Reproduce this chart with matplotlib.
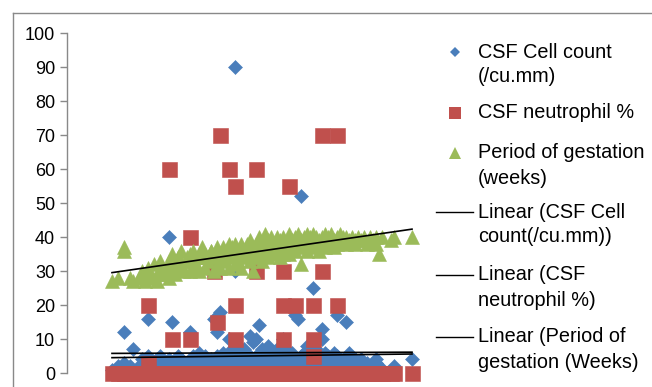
import matplotlib.pyplot as plt
from matplotlib.lines import Line2D
import numpy as np

plt.rcParams['font.family'] = ['Liberation Sans', 'DejaVu Sans']

# case position along the (hidden) x axis
case_x = [15, 17, 19, 19, 21, 22, 24, 25, 26, 27,
          27, 28, 29, 30, 31, 31, 32, 33, 34, 34,
          35, 35, 36, 37, 38, 38, 39, 40, 41, 41,
          42, 43, 44, 44, 45, 46, 46, 47, 48, 49,
          49, 50, 50, 51, 51, 52, 52, 53, 54, 54,
          55, 55, 56, 56, 56, 57, 57, 58, 58, 59,
          59, 60, 61, 61, 62, 62, 63, 63, 64, 64,
          65, 65, 66, 66, 67, 67, 68, 68, 69, 69,
          70, 70, 71, 71, 72, 72, 72, 73, 73, 74,
          74, 75, 75, 76, 76, 77, 77, 78, 78, 79,
          79, 80, 80, 81, 81, 82, 82, 82, 83, 83,
          84, 84, 85, 85, 86, 86, 87, 87, 88, 88,
          89, 89, 90, 90, 91, 91, 92, 93, 93, 94,
          95, 96, 96, 97, 98, 99, 100, 101, 102, 103,
          103, 104, 105, 108, 109, 115,
          # cases hidden under the row of zero squares
          30, 32, 34, 36, 38, 40, 42, 44, 46, 48,
          50, 52, 54, 56, 58, 60, 62, 64, 47, 53,
          57, 43, 37, 33]

cell_count = [1, 2, 12, 3, 2, 7, 2, 4, 3, 16,
              5, 2, 3, 4, 2, 5, 3, 1, 40, 4,
              15, 2, 3, 5, 2, 4, 1, 3, 12, 2,
              5, 3, 6, 2, 4, 3, 5, 2, 4, 16,
              3, 12, 5, 18, 2, 4, 6, 3, 10, 5,
              7, 2, 90, 30, 5, 4, 8, 3, 6, 4,
              7, 3, 11, 5, 9, 4, 10, 3, 14, 6,
              4, 7, 3, 5, 8, 2, 4, 6, 3, 5,
              7, 2, 4, 6, 10, 3, 5, 4, 7, 3,
              5, 6, 2, 17, 4, 16, 3, 52, 5, 6,
              3, 4, 8, 5, 2, 25, 6, 3, 4, 7,
              5, 3, 13, 10, 4, 6, 3, 5, 2, 4,
              6, 3, 17, 5, 3, 4, 2, 15, 4, 6,
              3, 4, 2, 3, 4, 2, 3, 2, 3, 4,
              3, 2, 1, 1, 2, 4,
              2, 1, 3, 2, 1, 2, 3, 1, 2, 3,
              2, 1, 3, 2, 1, 2, 3, 2, 1, 2,
              3, 1, 2, 1]

neutrophil = [0, 0, 0, 0, 0, 0, 0, 0, 0, 20,
              3, 0, 0, 0, 0, 0, 0, 0, 60, 0,
              10, 0, 0, 0, 0, 0, 0, 0, 40, 10,
              0, 0, 0, 0, 0, 0, 0, 0, 0, 30,
              0, 15, 0, 70, 0, 0, 0, 0, 60, 0,
              0, 0, 55, 20, 10, 0, 0, 0, 0, 0,
              0, 0, 0, 0, 0, 0, 60, 30, 0, 0,
              0, 0, 0, 0, 0, 0, 0, 0, 0, 0,
              0, 0, 0, 0, 30, 20, 10, 0, 0, 55,
              0, 0, 0, 0, 20, 0, 0, 0, 0, 0,
              0, 0, 0, 0, 0, 20, 10, 5, 0, 0,
              0, 0, 70, 30, 0, 0, 0, 0, 0, 0,
              0, 0, 70, 20, 0, 0, 0, 0, 0, 0,
              0, 0, 0, 0, 0, 0, 0, 0, 0, 0,
              0, 0, 0, 0, 0, 0,
              0, 0, 0, 0, 0, 0, 0, 0, 0, 0,
              0, 0, 0, 0, 0, 0, 0, 0, 0, 0,
              0, 0, 0, 0]

gestation = [27, 28, 37, 36, 28, 27, 28, 30, 27, 29,
             31, 28, 32, 27, 30, 33, 29, 31, 28, 33,
             30, 35, 29, 34, 31, 36, 30, 33, 35, 30,
             36, 32, 34, 30, 37, 31, 35, 33, 36, 30,
             34, 37, 32, 35, 31, 37, 33, 36, 31, 38,
             34, 37, 32, 36, 38, 33, 35, 38, 31, 36,
             34, 37, 33, 39, 35, 30, 38, 34, 40, 36,
             38, 33, 41, 36, 39, 34, 37, 40, 35, 38,
             36, 40, 34, 39, 37, 35, 40, 38, 36, 41,
             35, 39, 37, 40, 36, 38, 41, 32, 39, 37,
             40, 36, 41, 38, 40, 37, 39, 41, 38, 40,
             36, 39, 40, 38, 41, 37, 39, 40, 38, 41,
             39, 37, 40, 38, 39, 41, 40, 38, 40, 39,
             40, 38, 39, 40, 39, 40, 38, 40, 39, 40,
             38, 35, 40, 39, 40, 40,
             29, 31, 30, 33, 32, 34, 33, 35, 34, 36,
             35, 36, 37, 35, 37, 38, 37, 39, 34, 35,
             36, 31, 32, 30]

BLUE = '#4a7ebb'
RED = '#c0504d'
GREEN = '#9bbb59'
GREY = '#898989'

W, H = 652, 387
fig = plt.figure(figsize=(W / 100, H / 100), dpi=100)
# y=0 at pixel row 373, y=100 at row 33, y axis at column 67
ax = fig.add_axes([67 / W, 14 / H, 363 / W, 340 / H])

x = np.array(case_x, dtype=float)
series = [
    (cell_count, 'D', 7.4, BLUE),
    (neutrophil, 's', 10.8, RED),
    (gestation, '^', 10.6, GREEN),
]
for z, (vals, mk, ms, col) in enumerate(series):
    ax.plot(x, vals, linestyle='none', marker=mk, markersize=ms,
            color=col, markeredgecolor=col, markeredgewidth=0.4,
            clip_on=False, zorder=2 + z)

# linear trendlines spanning the data range
xs = np.array([x.min(), x.max()])
for vals, _, _, _ in series:
    k, b = np.polyfit(x, np.array(vals, dtype=float), 1)
    ax.plot(xs, k * xs + b, color='black', lw=1.2, zorder=6, clip_on=False)

ax.set_xlim(0, 121)
ax.set_ylim(0, 100)
ax.set_yticks(range(0, 101, 10))
ax.set_xticks([])
for s in ['top', 'right', 'bottom']:
    ax.spines[s].set_visible(False)
ax.spines['left'].set_color(GREY)
ax.spines['left'].set_linewidth(1.0)
ax.tick_params(axis='y', direction='out', length=5, width=1.0,
               color=GREY, labelsize=13, labelcolor='black', pad=3.5)
ax.patch.set_alpha(0)

# outer chart border (continues past the cropped right/bottom edge)
fig.add_artist(Line2D([12.5 / W, 12.5 / W], [0, 1 - 12.5 / H],
                      transform=fig.transFigure, color=GREY, lw=1.0))
fig.add_artist(Line2D([12.5 / W, 1], [1 - 12.5 / H, 1 - 12.5 / H],
                      transform=fig.transFigure, color=GREY, lw=1.0))

# hand-placed legend, positions in pixels from top-left
legend_items = [
    ('D', BLUE, 5.6, ['CSF Cell count', '(/cu.mm)'], 52),
    ('s', RED, 9.0, ['CSF neutrophil %'], 113),
    ('^', GREEN, 8.6, ['Period of gestation', '(weeks)'], 153),
    ('line', None, None, ['Linear (CSF Cell', 'count(/cu.mm))'], 212),
    ('line', None, None, ['Linear (CSF', 'neutrophil %)'], 275),
    ('line', None, None, ['Linear (Period of', 'gestation (Weeks)'], 337),
]
line_gap = 25
for mk, col, ms, lines, ypx in legend_items:
    yf = 1 - ypx / H
    if mk == 'line':
        fig.add_artist(Line2D([436 / W, 473 / W], [yf, yf],
                              transform=fig.transFigure, color='black', lw=1.0))
    else:
        fig.add_artist(Line2D([455 / W], [yf], transform=fig.transFigure,
                              linestyle='none', marker=mk, markersize=ms,
                              color=col, markeredgewidth=0))
    for i, txt in enumerate(lines):
        fig.text(478 / W, 1 - (ypx + i * line_gap) / H, txt,
                 ha='left', va='center', fontsize=14.3, color='black')

fig.savefig('out.png', dpi=100)
